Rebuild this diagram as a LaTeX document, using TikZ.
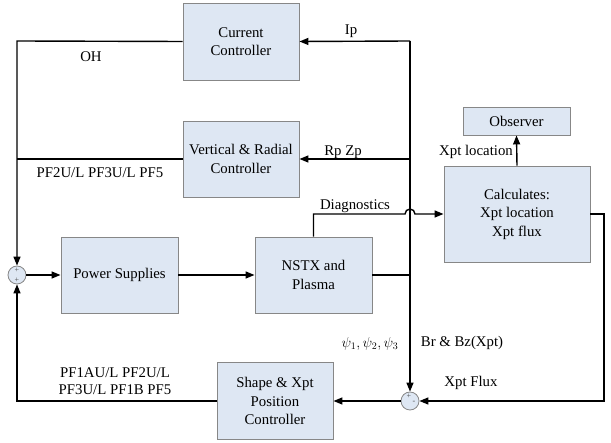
\documentclass[tikz,border=0pt]{standalone}
\usepackage{fontspec}
\setmainfont{LiberationSerif}[Extension=.ttf, UprightFont=*-Regular, BoldFont=*-Bold, ItalicFont=*-Italic]
\usetikzlibrary{arrows.meta,calc}
\definecolor{boxfill}{RGB}{222,231,243}
\definecolor{boxline}{RGB}{135,135,135}
\begin{document}
\begin{tikzpicture}[x=1pt,y=-1pt,
  blk/.style={draw=boxline, fill=boxfill, line width=0.9pt, align=center,
    font=\fontsize{14.8}{18.5}\selectfont, inner sep=0pt},
  sumc/.style={circle, draw=boxline, fill=boxfill, line width=0.8pt, minimum size=18pt, inner sep=0pt},
  wire/.style={line width=1.4pt, line join=miter},
  arr/.style={wire, -{Triangle[length=9pt,width=7pt]}},
  lbl/.style={inner sep=0pt, font=\fontsize{14.8}{17}\selectfont, align=center},
  sg/.style={inner sep=0pt, font=\fontsize{8}{8}\selectfont, text=black!70}]
\useasboundingbox (0,0) rectangle (611,443);
% blocks
\node[blk, minimum width=116pt, minimum height=77pt] (cur) at (241,41.5) {Current\\Controller};
\node[blk, minimum width=116pt, minimum height=76pt] (vr) at (241,159) {Vertical \& Radial\\Controller};
\node[blk, minimum width=107pt, minimum height=28pt] (obs) at (516.5,121) {Observer};
\node[blk, minimum width=146pt, minimum height=96pt] (calc) at (517,214) {Calculates:\\Xpt location\\Xpt flux};
\node[blk, minimum width=117pt, minimum height=76pt] (ps) at (119.5,275) {Power Supplies};
\node[blk, minimum width=117pt, minimum height=76pt] (nstx) at (313.5,275) {NSTX and\\Plasma};
\node[blk, minimum width=116pt, minimum height=77pt] (shape) at (275,401) {Shape \& Xpt\\Position\\Controller};
% summing junctions
\node[sumc] (s1) at (17,275) {};
\node[sg] (s1a) at (17,270) {+};
\node[sg] (s1b) at (17,280.5) {+};
\node[sumc] (s2) at (410,401) {};
\node[sg] (s2a) at (409,396) {+};
\node[sg] (s2b) at (414,402.5) {-};
% junction coordinates
\coordinate (jIp) at (410,41);
\coordinate (jRp) at (410,159);
\coordinate (jN) at (410,275);
\coordinate (lt) at (17,41);
\coordinate (lm) at (17,159);
\coordinate (lb) at (17,401);
\coordinate (d1) at (313.5,214);
\coordinate (h1) at (405,214);
\coordinate (cr) at (604,214);
\coordinate (cb) at (604,401);
% connectors
\draw[arr] (jIp) -- (cur.east);
\draw[arr] (jRp) -- (vr.east);
\draw[wire] (nstx.east) -- (jN);
\draw[arr] (jIp) -- (s2.north);
\draw[arr] (nstx.north) -- (d1) -- (h1) arc[start angle=180, end angle=0, radius=5pt] -- (calc.west);
\draw[arr] (calc.north) -- (obs.south);
\draw[arr] (calc.east) -- (cr) -- (cb) -- (s2.east);
\draw[arr] (s2.west) -- (shape.east);
\draw[arr] (shape.west) -- (lb) -- (s1.south);
\draw[arr] (cur.west) -- (lt) -- (s1.north);
\draw[wire] (vr.west) -- (lm);
\draw[arr] (s1.east) -- (ps.west);
\draw[arr] (ps.east) -- (nstx.west);
% labels
\node[lbl] (tOH) at (91,57) {OH};
\node[lbl] (tPF) at (100,173) {PF2U/L PF3U/L PF5};
\node[lbl] (tIp) at (351,31) {Ip};
\node[lbl] (tRp) at (343,152) {Rp Zp};
\node[lbl, anchor=east] (tXl) at (513,152) {Xpt location};
\node[lbl] (tDi) at (355,206) {Diagnostics};
\node[lbl] (tPsi) at (370,344) {$\psi_{1},\psi_{2},\psi_{3}$};
\node[lbl] (tBr) at (462,343) {Br \& Bz(Xpt)};
\node[lbl] (tXf) at (471,383) {Xpt Flux};
\node[lbl] (tPF2) at (115,381) {PF1AU/L PF2U/L\\PF3U/L PF1B PF5};
\end{tikzpicture}
\end{document}
